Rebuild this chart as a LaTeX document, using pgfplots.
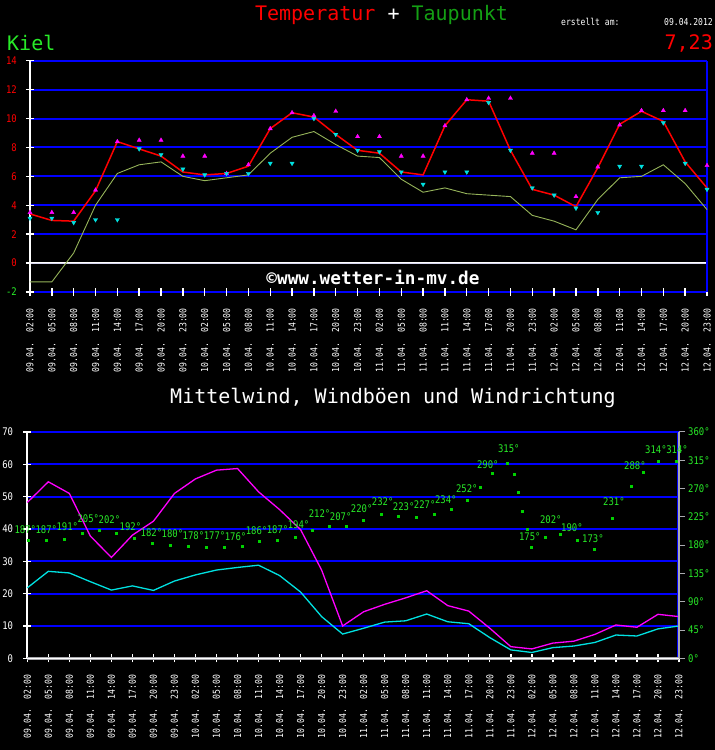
\documentclass[border=0pt]{standalone}
\usepackage{pgfplots}
\usepackage{pgfplotstable}
\pgfplotsset{compat=1.18}
\usepackage{fontspec}
\setmainfont{DejaVu Sans Mono}
\newfontfamily\pix[FakeStretch=0.85]{DejaVu Sans Mono}

\definecolor{gridblue}{RGB}{0,0,255}
\definecolor{tred}{RGB}{255,0,0}
\definecolor{dewol}{RGB}{150,180,90}
\definecolor{mag}{RGB}{255,0,255}
\definecolor{cyn}{RGB}{0,225,225}
\definecolor{lgreen}{RGB}{40,235,40}
\definecolor{dgreen}{RGB}{0,210,0}
\definecolor{tgreen}{RGB}{20,160,20}
\definecolor{axgrey}{RGB}{170,170,175}
\definecolor{zline}{RGB}{215,215,240}

\pgfplotstableread{
i T Td Tx Tn
0 3.4 -1.3 3.5 3.1
1 2.95 -1.3 3.5 3.1
2 2.9 0.7 3.5 2.8
3 5.0 4.0 5.05 3.0
4 8.4 6.2 8.4 3.0
5 7.9 6.8 8.5 7.9
6 7.4 7.0 8.5 7.5
7 6.3 6.0 7.4 6.5
8 6.1 5.7 7.4 6.1
9 6.2 5.9 6.2 6.2
10 6.7 6.1 6.8 6.2
11 9.3 7.6 9.3 6.9
12 10.4 8.7 10.4 6.9
13 10.1 9.1 10.2 10.0
14 8.9 8.2 10.5 8.9
15 7.8 7.4 8.75 7.8
16 7.6 7.3 8.75 7.7
17 6.3 5.8 7.4 6.3
18 6.1 4.9 7.4 5.45
19 9.5 5.2 9.5 6.3
20 11.3 4.8 11.3 6.3
21 11.2 4.7 11.4 11.1
22 7.8 4.6 11.4 7.8
23 5.1 3.3 7.6 5.2
24 4.7 2.9 7.6 4.7
25 3.9 2.3 4.6 3.8
26 6.6 4.4 6.65 3.5
27 9.6 5.9 9.55 6.7
28 10.5 6.0 10.55 6.7
29 9.8 6.8 10.55 9.7
30 7.0 5.5 10.55 6.9
31 5.2 3.7 6.75 5.1
}\temptab

\pgfplotstableread{
i gust mean dir
0 48.2 21.8 187
1 54.6 26.9 187
2 51.0 26.4 191
3 37.8 23.7 205
4 31.2 21.1 202
5 38.1 22.4 192
6 42.4 21.0 182
7 51.0 23.9 180
8 55.5 25.8 178
9 58.2 27.3 177
10 58.7 28.1 176
11 51.5 28.8 186
12 46.0 25.6 187
13 39.8 20.5 194
14 27.3 12.9 212
15 10.0 7.5 207
16 14.4 9.3 220
17 16.7 11.2 232
18 18.7 11.6 223
19 20.9 13.7 227
20 16.3 11.3 234
21 14.6 10.7 252
22 9.3 6.4 290
23 3.6 2.6 315
24 2.9 1.8 175
25 4.7 3.3 202
26 5.3 3.8 190
27 7.4 4.9 173
28 10.3 7.2 231
29 9.6 6.9 288
30 13.6 9.1 314
31 12.9 10.0 314
}\windtab

\pgfplotstableread{
x deg
0.03 187.1
0.89 187.1
1.76 190.2
2.59 199.8
3.40 203.6
4.25 199.8
5.07 191.4
5.93 182.9
6.79 180.2
7.64 178.6
8.50 177.5
9.35 177.0
10.21 178.6
11.05 186.1
11.91 187.1
12.74 192.5
13.55 204.1
14.36 210.4
15.19 210.4
15.98 220.0
16.82 230.0
17.64 226.3
18.48 225.2
19.34 230.0
20.18 237.9
20.94 251.8
21.53 272.9
22.13 294.3
22.82 311.1
23.16 293.1
23.37 264.0
23.56 234.8
23.78 206.1
23.98 177.0
24.63 192.5
25.36 197.7
26.17 187.1
26.95 174.3
27.84 223.6
28.74 274.5
29.31 296.8
30.00 314.3
30.88 314.3
}\dirdots

\pgfplotsset{
  datelabels/.style={xticklabels={
09.04.~~02:00,09.04.~~05:00,09.04.~~08:00,09.04.~~11:00,09.04.~~14:00,09.04.~~17:00,09.04.~~20:00,09.04.~~23:00,
10.04.~~02:00,10.04.~~05:00,10.04.~~08:00,10.04.~~11:00,10.04.~~14:00,10.04.~~17:00,10.04.~~20:00,10.04.~~23:00,
11.04.~~02:00,11.04.~~05:00,11.04.~~08:00,11.04.~~11:00,11.04.~~14:00,11.04.~~17:00,11.04.~~20:00,11.04.~~23:00,
12.04.~~02:00,12.04.~~05:00,12.04.~~08:00,12.04.~~11:00,12.04.~~14:00,12.04.~~17:00,12.04.~~20:00,12.04.~~23:00}},
  base/.style={
    scale only axis, anchor=south west,
    xmin=0, xmax=31,
    axis line style={draw=none},
    xtick={0,...,31},
    tick align=center, major tick length=8pt,
    tick pos=left,
    tick style={white, line width=1.4pt},
    xticklabel style={rotate=90, anchor=east, inner sep=0pt, text=white,
      font=\pix\fontsize{9.6}{10}\selectfont},
    yticklabel style={anchor=east, inner sep=0pt, font=\pix\fontsize{10.5}{11}\selectfont},
    ymajorgrids,
    major grid style={gridblue, line width=2pt},
    clip=false,
  }
}

\begin{document}
\begin{tikzpicture}
\fill[black] (0pt,0pt) rectangle (715pt,750pt);

% header texts
\node[font=\fontsize{20}{20}\selectfont] at (381.5pt,735pt)
  {\textcolor{tred}{Temperatur} \textcolor{white}{+} \textcolor{tgreen}{Taupunkt}};
\node[anchor=west, text=white, font=\pix\fontsize{9.5}{10}\selectfont, inner sep=0pt] at (561pt,728pt) {erstellt am:};
\node[anchor=east, text=white, font=\pix\fontsize{9.5}{10}\selectfont, inner sep=0pt] at (713pt,728pt) {09.04.2012};
\node[anchor=west, text=lgreen, font=\fontsize{20}{20}\selectfont, inner sep=0pt] at (7pt,707pt) {Kiel};
\node[anchor=east, text=tred, font=\fontsize{20}{20}\selectfont, inner sep=0pt] at (713pt,707pt) {7,23};

% ---------- temperature axis ----------
\begin{axis}[base, datelabels,
  at={(30pt,458pt)}, width=677pt, height=231.3pt,
  ymin=-2, ymax=14,
  ytick={-2,0,2,4,6,8,10,12,14},
  yticklabels={\textcolor{lgreen}{-2},0,2,4,6,8,10,12,14},
  yticklabel style={text=tred},
  xticklabel shift=12pt, yticklabel shift=9pt,
]
\draw[zline, line width=2.4pt] (axis cs:0,0) -- (axis cs:31,0);
\draw[white, line width=1pt] ([yshift=0.6pt]axis cs:0,0) -- ([yshift=0.6pt]axis cs:31,0);
\draw[gridblue, line width=2pt] (axis cs:31,-2) -- (axis cs:31,14);
\draw[white, line width=2pt] (axis cs:0,-2) -- (axis cs:0,14);
\addplot[dewol, line width=0.9pt] table[x=i, y=Td] {\temptab};
\addplot[tred, line width=1.5pt] table[x=i, y=T] {\temptab};
\addplot[only marks, mark=triangle*, mark size=2.4pt, mag, mark options={draw=mag, fill=mag}] table[x=i, y=Tx] {\temptab};
\addplot[only marks, mark=triangle*, mark size=2.4pt, cyn, mark options={draw=cyn, fill=cyn, rotate=180}] table[x=i, y=Tn] {\temptab};
\end{axis}

\node[text=white, font=\bfseries\fontsize{17.7}{18}\selectfont, inner sep=0pt] at (373pt,473pt) {©www.wetter-in-mv.de};

\node[text=white, font=\fontsize{20}{20}\selectfont] at (393pt,352pt) {Mittelwind, Windböen und Windrichtung};

% ---------- wind axis ----------
\begin{axis}[base, datelabels,
  at={(27.3pt,91.7pt)}, width=651.7pt, height=226.3pt,
  ymin=0, ymax=70,
  ytick={0,10,...,70},
  yticklabels={0,10,20,30,40,50,60,70},
  yticklabel style={text=white},
  xticklabel shift=12pt, yticklabel shift=10pt,
]
\draw[gridblue, line width=1.5pt] ([xshift=-1.5pt]axis cs:31,0) -- ([xshift=-1.5pt]axis cs:31,70);
\draw[white, line width=2pt] (axis cs:0,0) -- (axis cs:0,70);
\addplot[mag, line width=1.3pt] table[x=i, y=gust] {\windtab};
\addplot[cyn, line width=1.3pt] table[x=i, y=mean] {\windtab};
\draw[axgrey, line width=2.6pt] (axis cs:0,0) -- (axis cs:31,0);
\draw[white, line width=0.9pt] (axis cs:0,0) -- (axis cs:31,0);
\end{axis}

% ---------- direction overlay ----------
\begin{axis}[
  scale only axis, anchor=south west,
  at={(27.3pt,91.7pt)}, width=651.7pt, height=226.3pt,
  xmin=0, xmax=31, ymin=0, ymax=360,
  axis line style={draw=none},
  xtick=\empty,
  ytick={0,45,...,360},
  yticklabels={0°,45°,90°,135°,180°,225°,270°,315°,360°},
  ytick pos=right,
  tick align=outside, major tick length=6pt,
  tick style={axgrey, line width=1pt},
  yticklabel style={anchor=west, inner sep=0pt, text=lgreen, font=\pix\fontsize{10.5}{11}\selectfont},
  yticklabel shift=3pt,
  clip=false,
]
\draw[axgrey, line width=1.2pt] (axis cs:31,0) -- (axis cs:31,360);
\addplot[only marks, mark=square*, mark size=1pt, dgreen] table[x=x, y=deg] {\dirdots};
\addplot[only marks, mark=*, mark size=0pt,
  nodes near coords={\pgfplotspointmeta°},
  point meta=explicit symbolic,
  every node near coord/.style={text=lgreen, anchor=south, inner sep=0pt,
    xshift=-2pt, yshift=7pt, font=\pix\fontsize{10.5}{11}\selectfont}]
  table[x=i, y=dir, meta=dir] {\windtab};
\end{axis}

\pgfresetboundingbox
\path (0pt,0pt) rectangle (715pt,750pt);
\end{tikzpicture}
\end{document}
